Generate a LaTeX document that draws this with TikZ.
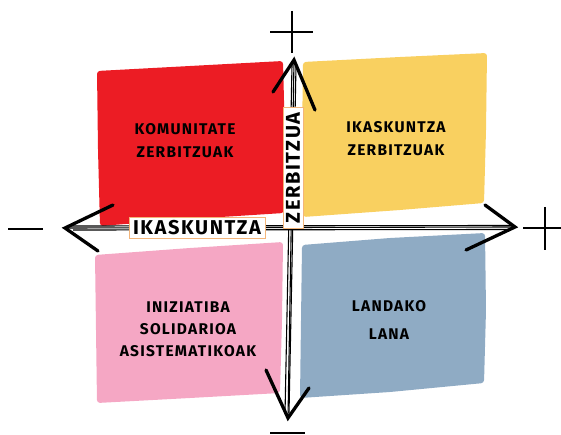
\documentclass[tikz,border=0pt]{standalone}
\usepackage{fontspec}
\newfontfamily\handfont[LetterSpace=8]{Fira Sans}
\usetikzlibrary{positioning}
\definecolor{qred}{HTML}{EC1C24}
\definecolor{qyellow}{HTML}{F9D060}
\definecolor{qpink}{HTML}{F5A7C4}
\definecolor{qblue}{HTML}{8FABC4}
\definecolor{tagline}{HTML}{F3B57A}
\tikzset{
  quad/.style={rounded corners=3pt},
  quadtext/.style={font=\handfont\bfseries\fontsize{15.5}{23}\selectfont, align=center, text=black},
  axistag/.style={draw=tagline, fill=white, line width=0.6pt, inner xsep=4pt, inner ysep=2pt, minimum height=21pt, font=\handfont\bfseries\fontsize{20}{20}\selectfont},
  shaft/.style={line width=1.1pt},
  barb/.style={line width=3.3pt, line cap=round, line join=miter},
  sign/.style={line width=1.1pt}
}
\begin{document}
\begin{tikzpicture}[x=1pt,y=-1pt]
    \useasboundingbox (0,0) rectangle (561,435);

    % quadrants
    \fill[qred, quad] (97,71) -- (190,66) -- (283,61) -- (285,140) -- (284,213) -- (190,219) -- (100,226) -- (98,150) -- cycle;
    \fill[qyellow, quad] (303,62) -- (400,57) -- (487,53) -- (486,130) -- (484,203) -- (400,210) -- (303,217) -- (302,140) -- cycle;
    \fill[qpink, quad] (95,255) -- (190,248) -- (283,242) -- (282,320) -- (280,393) -- (190,398) -- (97,403) -- (96,330) -- cycle;
    \fill[qblue, quad] (302,245) -- (390,238) -- (485,233) -- (486,310) -- (484,383) -- (390,392) -- (300,398) -- (301,320) -- cycle;

    \node[quadtext] (komunitate) at (185,141) {KOMUNITATE\\ZERBITZUAK};
    \node[quadtext] (ikaszerbitzu) at (396,139) {IKASKUNTZA\\ZERBITZUAK};
    \node[quadtext, font=\handfont\bfseries\fontsize{15.5}{22}\selectfont] (iniziatiba) at (188,329) {INIZIATIBA\\SOLIDARIOA\\ASISTEMATIKOAK};
    \node[quadtext, font=\handfont\bfseries\fontsize{15.5}{28}\selectfont] (landako) at (389,320) {LANDAKO\\LANA};

    % axes
    \coordinate (west) at (65,228);
    \coordinate (east) at (515,227);
    \coordinate (north) at (294,60);
    \coordinate (south) at (288,418);

    \draw[shaft] (west) -- (east);
    \draw[shaft] ([shift={(6,-2)}]west) -- ([shift={(-3,-1.5)}]east);
    \draw[shaft] ([shift={(8,2)}]west) -- ([shift={(-5,2.5)}]east);
    \draw[shaft] (north) -- (south);
    \draw[shaft] ([shift={(-2,5)}]north) -- ([shift={(-3,-4)}]south);
    \draw[shaft] ([shift={(2,6)}]north) -- ([shift={(1,-5)}]south);

    \draw[barb] ([shift={(48,-23)}]west) -- (west) -- ([shift={(33,23)}]west);
    \draw[barb] ([shift={(-30,-22)}]east) -- (east) -- ([shift={(-49,23)}]east);
    \draw[barb] ([shift={(-21,32)}]north) -- (north) -- ([shift={(21,50)}]north);
    \draw[barb] ([shift={(-22,-48)}]south) -- (south) -- ([shift={(21,-30)}]south);

    \node[axistag] (ikaskuntza) at (197,228) {IKASKUNTZA};
    \node[axistag, rotate=90, minimum height=20pt, inner xsep=5pt] (zerbitzua) at (293,168) {ZERBITZUA};

    % signs
    \draw[sign] (270,32) -- (313,32) (292,11) -- (292,53);
    \draw[sign] (523,228) -- (561,228) (545,207) -- (545,250);
    \draw[sign] (8,229) -- (43,229);
    \draw[sign] (270,433) -- (305,433);
\end{tikzpicture}
\end{document}
